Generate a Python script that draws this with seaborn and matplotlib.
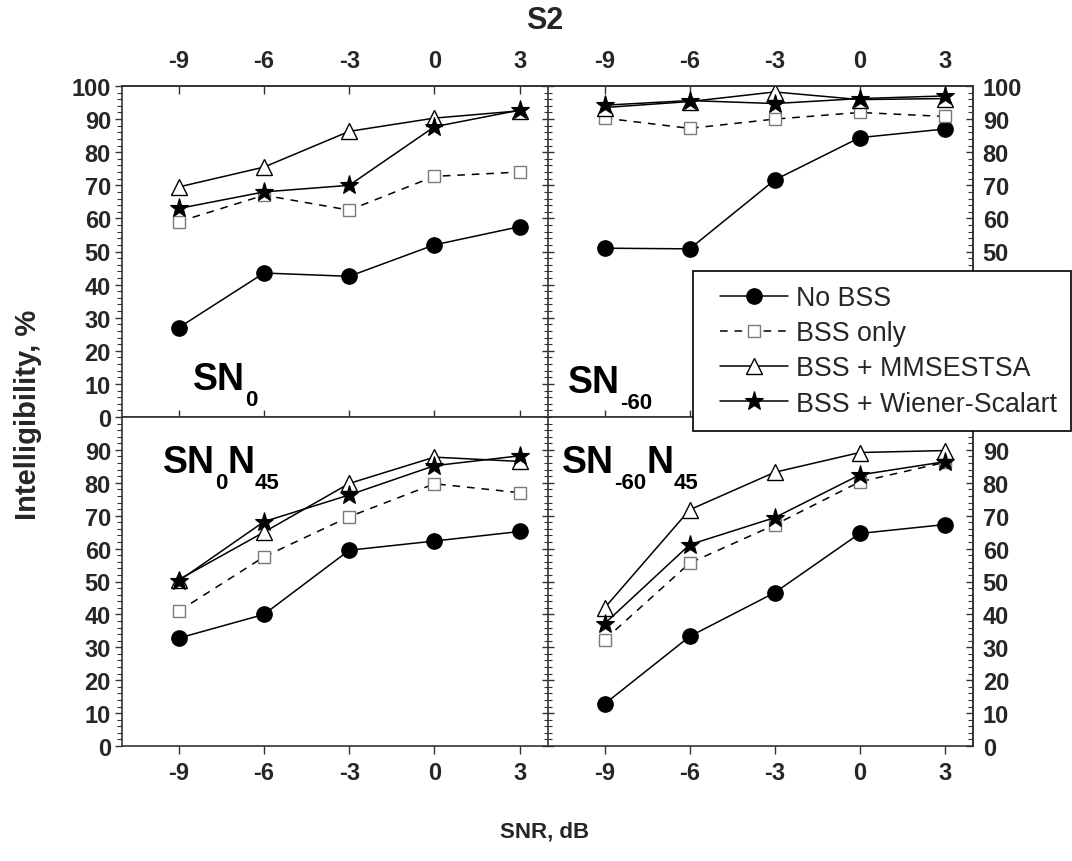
import numpy as np
import pandas as pd
import matplotlib
matplotlib.use("Agg")
import matplotlib.pyplot as plt
from matplotlib.ticker import MultipleLocator
from matplotlib.lines import Line2D
from matplotlib.legend_handler import HandlerLine2D
from matplotlib.transforms import IdentityTransform
import seaborn as sns

# ---------------- data ----------------
snr = [-9, -6, -3, 0, 3]
series_names = ["No BSS", "BSS only", "BSS + MMSESTSA", "BSS + Wiener-Scalart"]

# SN0 (top-left)
sn0_nobss = [27, 43.5, 42.5, 52, 57.5]
sn0_bss = [59, 67, 62.5, 72.7, 74]
sn0_mmse = [69.5, 75.5, 86.3, 90.3, 92.5]
sn0_wiener = [63, 68, 70, 87.7, 92.7]

# SN-60 (top-right)
sn60_nobss = [51, 50.8, 71.6, 84.4, 87]
sn60_bss = [90.3, 87.2, 90, 92, 90.8]
sn60_mmse = [93.5, 95.3, 98.2, 95.9, 96.2]
sn60_wiener = [94.2, 95.6, 94.7, 96.2, 97]

# SN0N45 (bottom-left)
sn0n45_nobss = [32.8, 40, 59.5, 62.3, 65.2]
sn0n45_bss = [41, 57.5, 69.7, 79.7, 77]
sn0n45_mmse = [50.6, 65, 79.8, 87.8, 86.5]
sn0n45_wiener = [50.2, 68.2, 76.3, 85.2, 88.2]

# SN-60N45 (bottom-right)
sn60n45_nobss = [12.8, 33.3, 46.6, 64.6, 67.3]
sn60n45_bss = [32.3, 55.6, 67.2, 80.3, 86.2]
sn60n45_mmse = [42, 71.8, 83.2, 89.2, 89.8]
sn60n45_wiener = [37.2, 61.2, 69.4, 82.4, 86.4]

# panel labels as (text, is_subscript) pieces
panel_labels = [
    [("SN", False), ("0", True)],
    [("SN", False), ("-60", True)],
    [("SN", False), ("0", True), ("N", False), ("45", True)],
    [("SN", False), ("-60", True), ("N", False), ("45", True)],
]
xticks = [-9, -6, -3, 0, 3]
yticks_top = list(range(0, 101, 10))
yticks_bottom = list(range(0, 91, 10))

panels = [
    [sn0_nobss, sn0_bss, sn0_mmse, sn0_wiener],
    [sn60_nobss, sn60_bss, sn60_mmse, sn60_wiener],
    [sn0n45_nobss, sn0n45_bss, sn0n45_mmse, sn0n45_wiener],
    [sn60n45_nobss, sn60n45_bss, sn60n45_mmse, sn60n45_wiener],
]

# ---------------- style ----------------
sns.set_style("ticks")
plt.rcParams["font.family"] = ["Liberation Sans", "DejaVu Sans"]
plt.rcParams["axes.unicode_minus"] = False

styles = [
    dict(marker="o", markersize=11, markerfacecolor="black", markeredgecolor="black",
         markeredgewidth=1.0, linestyle="-"),
    dict(marker="s", markersize=9, markerfacecolor="white", markeredgecolor="#7a7a7a",
         markeredgewidth=1.0, linestyle=(0, (5, 4.5))),
    dict(marker="^", markersize=12, markerfacecolor="white", markeredgecolor="black",
         markeredgewidth=1.0, linestyle="-"),
    dict(marker="*", markersize=14, markerfacecolor="black", markeredgecolor="black",
         markeredgewidth=0.8, linestyle="-"),
]

W, H = 1072, 862
fig = plt.figure(figsize=(W / 100, H / 100), dpi=100)
renderer = fig.canvas.get_renderer()

x0, xm, x1 = 122 / W, 548 / W, 973 / W
yb, ym, yt = 1 - 747 / H, 1 - 418 / H, 1 - 87 / H
positions = [
    [x0, ym, xm - x0, yt - ym],
    [xm, ym, x1 - xm, yt - ym],
    [x0, yb, xm - x0, ym - yb],
    [xm, yb, x1 - xm, ym - yb],
]
# label start positions in pixels (left, baseline from top)
label_px = [(193, 390), (568, 393), (163, 473), (562, 473)]

spine_c = "#333333"
tick_fs = 17
axes = []
for i, pos in enumerate(positions):
    ax = fig.add_axes(pos)
    axes.append(ax)
    for name, vals, st in zip(series_names, panels[i], styles):
        d = pd.DataFrame({"snr": snr, "val": vals})
        sns.lineplot(data=d, x="snr", y="val", ax=ax, color="black", linewidth=1.1,
                     legend=False, **st)
    ax.set_xlim(-11, 4)
    ax.set_ylim(0, 100)
    ax.set_xlabel("")
    ax.set_ylabel("")
    for s in ax.spines.values():
        s.set_visible(True)
        s.set_linewidth(1.2)
        s.set_color(spine_c)
    top = i < 2
    left = i % 2 == 0

    ax.set_xticks(xticks)
    if top:
        ax.tick_params(axis="x", which="both", bottom=True, top=False, labelbottom=False,
                       direction="inout", length=10, width=1.0, color=spine_c)
        sec = ax.secondary_xaxis("top")
        sec.set_xticks(xticks)
        sec.tick_params(axis="x", direction="in", length=6, width=1.0, color=spine_c,
                        pad=10, labelsize=tick_fs)
        for t in sec.get_xticklabels():
            t.set_fontweight("bold")
        sec.spines["top"].set_color(spine_c)
        sec.spines["top"].set_linewidth(1.2)
    else:
        ax.tick_params(axis="x", which="both", bottom=True, top=False, labelbottom=True,
                       direction="out", length=6, width=1.0, color=spine_c, pad=5,
                       labelsize=tick_fs)
        for t in ax.get_xticklabels():
            t.set_fontweight("bold")

    yt_list = yticks_top if top else yticks_bottom
    ax.set_yticks(yt_list)
    ax.yaxis.set_minor_locator(MultipleLocator(2))
    if left:
        ax.tick_params(axis="y", which="major", left=True, right=False, direction="out",
                       length=5, width=1.0, color=spine_c, pad=3, labelsize=tick_fs)
        ax.tick_params(axis="y", which="minor", left=True, right=False, direction="out",
                       length=3.5, width=0.8, color=spine_c)
        for t in ax.get_yticklabels():
            t.set_fontweight("bold")
        ax.spines["right"].set_visible(False)
    else:
        ax.tick_params(axis="y", which="major", left=True, right=False, labelleft=False,
                       direction="inout", length=9, width=1.0, color=spine_c)
        ax.tick_params(axis="y", which="minor", left=True, right=False, labelleft=False,
                       direction="inout", length=6, width=0.8, color=spine_c)
        secy = ax.secondary_yaxis("right")
        secy.set_yticks(yt_list)
        secy.yaxis.set_minor_locator(MultipleLocator(2))
        secy.tick_params(axis="y", which="major", direction="in", length=5, width=1.0,
                         color=spine_c, pad=7, labelsize=tick_fs)
        secy.tick_params(axis="y", which="minor", direction="in", length=3.5, width=0.8,
                         color=spine_c)
        for t in secy.get_yticklabels():
            t.set_fontweight("bold")
        secy.spines["right"].set_color(spine_c)
        secy.spines["right"].set_linewidth(1.2)

# panel labels composed of main text + subscripts
for i, parts in enumerate(panel_labels):
    px, py = label_px[i]
    xcur = px
    for txt, sub in parts:
        size = 16 if sub else 27
        ypix = H - py - (16 if sub else 0)
        t = fig.text(xcur, ypix, txt, transform=IdentityTransform(), fontsize=size,
                     fontweight="bold", ha="left", va="baseline", color="black")
        bb = t.get_window_extent(renderer)
        xcur = bb.x1

# legend
handles = axes[0].get_lines()[:4]
fs_leg = 19.3
leg = fig.legend(handles, series_names, loc="upper left",
                 bbox_to_anchor=(693 / W, 1 - 272 / H), bbox_transform=fig.transFigure,
                 fontsize=fs_leg, frameon=True, fancybox=False, framealpha=1,
                 edgecolor="black", handlelength=3.03, handletextpad=0.3,
                 labelspacing=0.345, borderpad=0.52, borderaxespad=0,
                 handler_map={Line2D: HandlerLine2D(xpad=0.5)})
leg.get_frame().set_linewidth(1.2)

fig.text(545 / W, 1 - 21 / H, "S2", ha="center", va="center", fontsize=22,
         fontweight="bold")
fig.text(545 / W, 1 - 832 / H, "SNR, dB", ha="center", va="center", fontsize=16,
         fontweight="bold")
fig.text(28 / W, 1 - 415 / H, "Intelligibility, %", ha="center", va="center",
         rotation=90, fontsize=21, fontweight="bold")

fig.savefig("out.png", dpi=100, facecolor="white")
